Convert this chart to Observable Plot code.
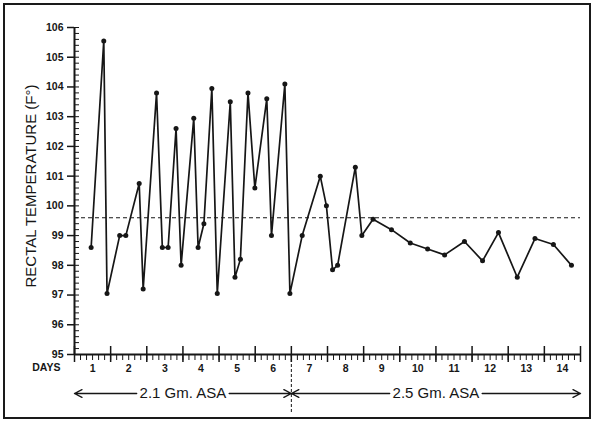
<!DOCTYPE html>
<html><head><meta charset="utf-8">
<script src="https://cdn.jsdelivr.net/npm/d3@7"></script>
<script src="https://cdn.jsdelivr.net/npm/@observablehq/plot@0.6"></script>
<style>
body{margin:0;background:#fff;}
#wrap{position:relative;width:593px;height:421px;overflow:hidden;}
#border{position:absolute;left:3px;top:3px;width:584px;height:412px;border:2px solid #1a1a1a;pointer-events:none}
</style></head><body><div id="wrap"><div id="border"></div></div>
<script>
// Time of reading (days since start; day 1 spans 0–1)
const time = [0.46, 0.81, 0.90, 1.25, 1.42, 1.79, 1.90, 2.27, 2.43, 2.59, 2.81, 2.95,
  3.30, 3.42, 3.58, 3.80, 3.95, 4.31, 4.44, 4.59, 4.80, 4.99, 5.32, 5.45, 5.82, 5.96,
  6.30, 6.80, 6.97, 7.14, 7.28, 7.77, 7.95, 8.26, 8.77, 9.29, 9.77, 10.24, 10.79,
  11.29, 11.73, 12.25, 12.74, 13.25, 13.75];
// Rectal temperature (°F)
const temp = [98.6, 105.55, 97.05, 99.0, 99.0, 100.75, 97.2, 103.8, 98.6, 98.6, 102.6, 98.0,
  102.95, 98.6, 99.4, 103.95, 97.05, 103.5, 97.6, 98.2, 103.8, 100.6, 103.6, 99.0, 104.1, 97.05,
  99.0, 101.0, 100.0, 97.85, 98.0, 101.3, 99.0, 99.55, 99.2, 98.75, 98.55, 98.35, 98.8,
  98.15, 99.1, 97.6, 98.9, 98.7, 98.0];
const dayLabels = [1,2,3,4,5,6,7,8,9,10,11,12,13,14];
const yTicks = [95,96,97,98,99,100,101,102,103,104,105,106];
const normalTemp = 99.6;
const regimeLabels = ["2.1 Gm. ASA", "2.5 Gm. ASA"];
const regimeStart = [0, 6];
const regimeEnd = [6, 14];

const data = time.map((t, i) => ({t, v: temp[i]}));
const dayBounds = d3.range(0, dayLabels.length + 1);
const minorX = d3.range(0, dayLabels.length * 6 + 1).map(i => i / 6);
const yMinor = d3.range(yTicks[0] * 5, yTicks[yTicks.length - 1] * 5 + 1).map(i => i / 5);
const regimes = regimeLabels.map((label, i) => ({label, start: regimeStart[i], end: regimeEnd[i]}));
const gap = 1.28;
const arrowSegs = regimes.flatMap(r => {
  const mid = (r.start + r.end) / 2;
  return [{x1: mid - gap, x2: r.start}, {x1: mid + gap, x2: r.end}];
});
const ink = "#161616";
const yBase = yTicks[0];

const chart = Plot.plot({
  width: 593, height: 421,
  marginLeft: 74, marginRight: 13, marginTop: 27, marginBottom: 67,
  style: {fontFamily: "'Liberation Sans', Arial, sans-serif", background: "transparent", color: ink},
  x: {domain: [0, dayLabels.length]},
  y: {domain: [yTicks[0], yTicks[yTicks.length - 1]]},
  marks: [
    Plot.ruleY([normalTemp], {stroke: ink, strokeDasharray: "4,3", strokeWidth: 1}),
    Plot.line(data, {x: "t", y: "v", stroke: ink, strokeWidth: 1.7}),
    Plot.dot(data, {x: "t", y: "v", r: 2.5, fill: ink}),
    Plot.axisY({ticks: yTicks, tickSize: 7, tickPadding: 4, fontSize: 10.5, fontWeight: "bold", label: null, strokeWidth: 1.5, stroke: ink}),
    Plot.axisY({ticks: yMinor, tickSize: 5, dx: 5, tickFormat: () => "", label: null, stroke: ink}),
    Plot.axisX({ticks: dayBounds, tickSize: 16, dy: -8, tickFormat: () => "", label: null, strokeWidth: 1.5, stroke: ink}),
    Plot.axisX({ticks: minorX, tickSize: 6, tickFormat: () => "", label: null, stroke: ink}),
    Plot.axisX({ticks: dayLabels.map(d => d - 0.5), tickSize: 0, tickPadding: 10, tickFormat: d => String(d + 0.5), fontSize: 10.5, fontWeight: "bold", label: null}),
    Plot.axisX({ticks: [regimeEnd[0]], tickSize: 58, tickFormat: () => "", strokeDasharray: "3,2", label: null, stroke: ink}),
    Plot.ruleX([0], {stroke: ink, strokeWidth: 2}),
    Plot.ruleY([yBase], {stroke: ink, strokeWidth: 2}),
    Plot.arrow(arrowSegs, {x1: "x1", x2: "x2", y1: () => yBase, y2: () => yBase, dy: 39, headLength: 9, headAngle: 55, stroke: ink, strokeWidth: 1.4}),
    Plot.text(regimes, {x: d => (d.start + d.end) / 2, y: () => yBase, dy: 39, text: "label", fontSize: 15, fill: ink}),
    Plot.text(["DAYS"], {frameAnchor: "bottom-left", dx: -14, dy: 16, textAnchor: "end", fontWeight: "bold", fontSize: 10.5, fill: ink}),
    Plot.text(["RECTAL TEMPERATURE (F°)"], {frameAnchor: "left", textAnchor: "middle", rotate: -90, dx: -43, dy: -5, fontSize: 15, fill: ink})
  ]
});
document.getElementById("wrap").prepend(chart);
</script>
</body></html>
